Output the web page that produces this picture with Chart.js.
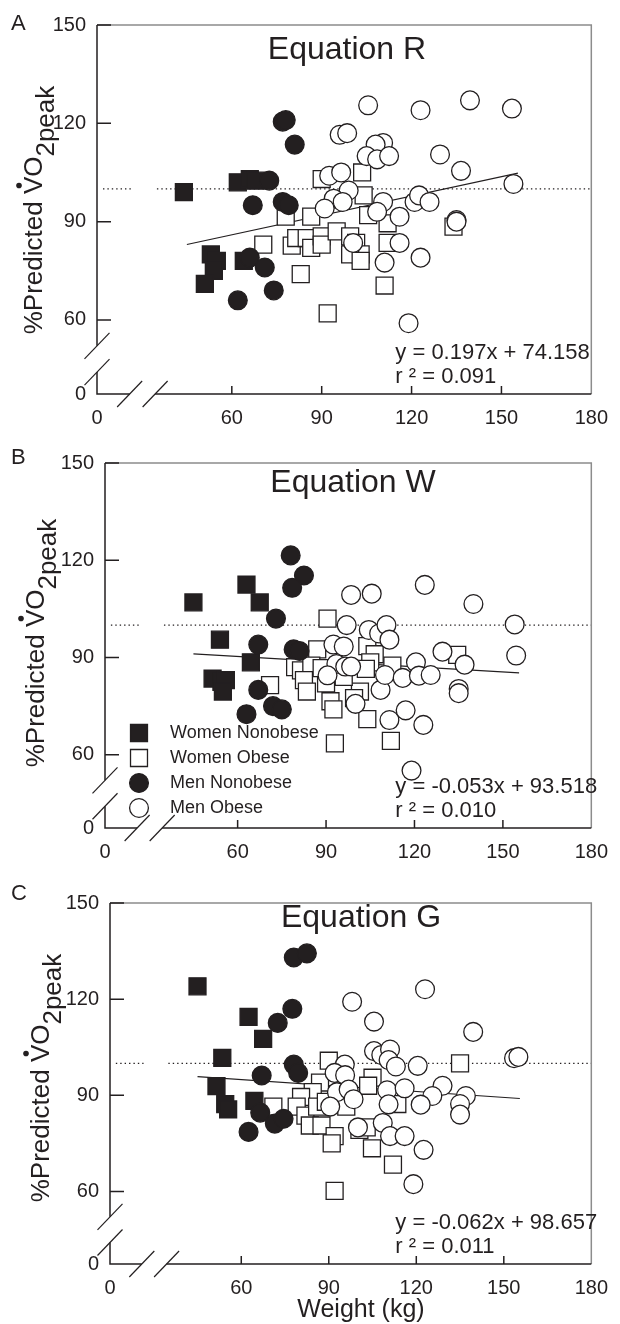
<!DOCTYPE html>
<html>
<head>
<meta charset="utf-8">
<script src="https://cdn.jsdelivr.net/npm/chart.js@4.4.0/dist/chart.umd.min.js"></script>
<style>
body { margin: 0; background: #fff; }
canvas { display: block; }
</style>
</head>
<body>
<canvas id="chartA" width="620" height="440"></canvas>
<canvas id="chartB" width="620" height="440"></canvas>
<canvas id="chartC" width="620" height="444"></canvas>
<script>
// groups, tick labels and fits
var groups = ['Women Nonobese', 'Women Obese', 'Men Nonobese', 'Men Obese'];
var xTicks = [0, 60, 90, 120, 150, 180];
var yTicks = [0, 60, 90, 120, 150];
var xStart = 15, yStart = 37.4;   // where the broken axes begin ("0")
var equations = ['Equation R', 'Equation W', 'Equation G'];
var slopes = [0.197, -0.053, -0.062];
var intercepts = [74.158, 93.518, 98.657];
var r2 = ['0.091', '0.010', '0.011'];
var fitRange = [45, 155.5];
var refLine = 100;

// weight (kg), % predicted VO2peak -- Equation R
var womenNonobeseR = [[44,99],[62,102],[66,103],[68,102.5],[53,80],[55,78],[54,75],[51,71],[64,78]];
var womenObeseR = [[90,103],[103.5,105],[104,98],[78,91.5],[86.5,91.5],[105.5,92],[70.5,83],[80,82.7],[81.5,85],[85,85],[86.5,82],[90,85.5],[90,83],[95,87],[99.5,85.5],[101.5,83.5],[103,80],[99.5,80],[103,78],[83,74],[92,62],[112,89.5],[112,83.5],[111,70.5],[134,88.5]];
var menNonobeseR = [[77,120.5],[78,121],[81,113.5],[72.5,102.5],[67,95],[77,96],[79,95],[66,79],[71,76],[74,69],[62,66]];
var menObeseR = [[105.5,125.5],[123,124],[139.5,127],[153.5,124.5],[96,116.5],[98.5,117],[110.5,114],[108,113.5],[105,110],[108.5,109],[112.5,110],[129.5,110.5],[136.5,105.5],[154,101.5],[92.5,104],[96.5,105],[99,99.5],[94,97],[97,96],[91,94],[110.5,96],[108.5,93],[116,91.5],[121,96],[122.5,98],[126,96],[135,90.5],[135,90],[100.5,83.5],[116,83.5],[111,77.5],[123,79],[119,59]];

// Equation W
var womenNonobeseW = [[45,107],[63,112.5],[67.5,107],[54,95.5],[64.5,88.5],[51.5,83.5],[54.5,82.5],[56,83],[55,79.5]];
var womenObeseW = [[90.5,102],[87,92.5],[79.5,87],[81.5,86],[85,87.5],[82.5,83],[83.5,79.5],[71,81.5],[91,84],[90,82],[91.5,76.5],[92.5,74],[93,63.5],[104,93.5],[106.5,91],[105,88.5],[112.5,87.5],[134.5,90.8],[101.5,79.5],[99.5,77.5],[104,71],[112,64.3],[103.5,86.5],[96,84],[88.5,86.7]];
var menNonobeseW = [[78,121.5],[82.5,115.3],[78.5,111.5],[73,102],[67,94],[79,92.5],[81,92],[67,80],[72,75],[75,74],[63,72.5]];
var menObeseW = [[98.5,109.3],[105.5,109.7],[123.5,112.4],[140,106.5],[97,100],[104.5,98.5],[108,97.4],[110.5,100],[111.5,95.5],[154,100.2],[154.5,90.6],[92.5,94],[96,93.4],[93.5,88],[96.5,87.2],[98.5,87.2],[90.5,84.5],[100,75.7],[108.5,80],[110,84.6],[116,83.7],[111.5,70.7],[117,73.7],[123,69.2],[119,55.1],[120.5,88.5],[121.5,84.4],[125.5,84.6],[129.5,91.8],[137,87.8],[135,80.3],[135,79]];

// Equation G
var womenNonobeseG = [[45,124],[62.5,114.5],[67.5,107.6],[53.5,101.7],[51.5,92.9],[54.5,87.3],[55.5,85.6],[64.5,88.3]];
var womenObeseG = [[90,100.8],[87,94],[84.5,91],[80.5,89.5],[79,86.5],[71,86.5],[82,83.7],[83.5,80.6],[87.5,80.6],[92,77.3],[91,75],[92,60.2],[104.8,73.5],[112,68.4],[105,95.5],[103.5,93],[113.5,87.3],[135,100],[96,86.5],[100.5,79.2],[103,80],[86,86.5],[89,88]];
var menNonobeseG = [[78,133],[82.5,134.3],[77.5,117],[72.5,112.6],[78,99.6],[79.5,97],[67,96.2],[66.5,84.6],[71.5,81.2],[74.5,82.7],[62.5,78.6]];
var menObeseG = [[98,119.2],[123,123.1],[105.5,113],[139.5,109.8],[105.5,103.8],[108,102.6],[111,104.3],[110.5,101],[113,99],[120.5,99.2],[153.5,101.6],[155,102],[95.5,99.6],[92,97],[95.6,96.3],[92.8,91],[96.8,91.8],[98.5,88.8],[90.5,86.5],[110,91.6],[110.5,87.2],[116,92.2],[129,93],[125.5,89.8],[121.5,87.1],[137,89.8],[135,87.3],[135,84],[108.5,81.4],[100,80],[111,77.3],[116,77.3],[122.5,73],[119,62.3]];

var panelData = [
  [womenNonobeseR, womenObeseR, menNonobeseR, menObeseR],
  [womenNonobeseW, womenObeseW, menNonobeseW, menObeseW],
  [womenNonobeseG, womenObeseG, menNonobeseG, menObeseG]
];

var ink = '#231f20';
var font = '"Liberation Sans", Arial, Helvetica, sans-serif';
var styles = [
  { pointStyle: 'rect', radius: 12, fill: ink },
  { pointStyle: 'rect', radius: 12, fill: '#fff' },
  { pointStyle: 'circle', radius: 9.4, fill: ink },
  { pointStyle: 'circle', radius: 9.4, fill: '#fff' }
];

// layout of each panel (canvas px)
var panels = [
  { id: 'chartA', letter: 'A', h: 440, left: 97, right: 595, top: 25, bottom: 394, titleX: 347, titleY: 50, letterY: 24, yTitleX: 42, yTitleY: 210, legend: false, xTitle: false },
  { id: 'chartB', letter: 'B', h: 440, left: 105, right: 602, top: 20, bottom: 388, titleX: 353, titleY: 43, letterY: 18, yTitleX: 44, yTitleY: 203, legend: true, xTitle: false },
  { id: 'chartC', letter: 'C', h: 444, left: 110, right: 609, top: 16, bottom: 384, titleX: 361, titleY: 38, letterY: 14, yTitleX: 49, yTitleY: 198, legend: false, xTitle: true }
];

function slash(ctx, cx, cy) {
  ctx.beginPath();
  ctx.moveTo(cx - 12.5, cy + 13);
  ctx.lineTo(cx + 12.5, cy - 13);
  ctx.stroke();
}

function marker(ctx, s, x, y) {
  ctx.beginPath();
  if (s.pointStyle === 'rect') {
    var h = s.radius * Math.SQRT1_2;
    ctx.rect(x - h, y - h, 2 * h, 2 * h);
  } else {
    ctx.arc(x, y, s.radius, 0, Math.PI * 2);
  }
  ctx.fillStyle = s.fill;
  ctx.fill();
  ctx.lineWidth = 1.3;
  ctx.strokeStyle = ink;
  ctx.stroke();
}

var decor = {
  id: 'decor',
  afterDraw: function(chart) {
    var p = chart.options.plugins.decor;
    var ctx = chart.ctx, a = chart.chartArea, xs = chart.scales.x, ys = chart.scales.y;
    ctx.save();

    // grey top and right frame
    ctx.strokeStyle = '#8c8c8c';
    ctx.lineWidth = 1.5;
    ctx.beginPath();
    ctx.moveTo(a.left, a.top); ctx.lineTo(a.right, a.top); ctx.lineTo(a.right, a.bottom);
    ctx.stroke();

    // broken axes
    var yb1 = ys.getPixelForValue(52.1), yb2 = ys.getPixelForValue(44.1);
    var xb1 = xs.getPixelForValue(25.9), xb2 = xs.getPixelForValue(34.4);
    ctx.strokeStyle = ink;
    ctx.lineWidth = 1.5;
    ctx.beginPath();
    ctx.moveTo(a.left, a.top); ctx.lineTo(a.left, yb1);
    ctx.moveTo(a.left, yb2); ctx.lineTo(a.left, a.bottom); ctx.lineTo(xb1, a.bottom);
    ctx.moveTo(xb2, a.bottom); ctx.lineTo(a.right, a.bottom);
    // inner ticks
    yTicks.slice(1).forEach(function(v) {
      var py = ys.getPixelForValue(v);
      ctx.moveTo(a.left, py); ctx.lineTo(a.left + 14, py);
    });
    xTicks.slice(1, -1).forEach(function(v) {
      var px = xs.getPixelForValue(v);
      ctx.moveTo(px, a.bottom); ctx.lineTo(px, a.bottom - 8);
    });
    ctx.stroke();
    ctx.lineWidth = 1.2;
    slash(ctx, a.left, yb1); slash(ctx, a.left, yb2);
    slash(ctx, xb1, a.bottom); slash(ctx, xb2, a.bottom);

    ctx.fillStyle = ink;
    // panel letter and title
    ctx.textBaseline = 'middle';
    ctx.textAlign = 'left';
    ctx.font = '22px ' + font;
    ctx.fillText(p.letter, 11, p.letterY);
    ctx.textAlign = 'center';
    ctx.font = '32px ' + font;
    ctx.fillText(p.title, p.titleX, p.titleY);

    // regression equation
    ctx.textAlign = 'left';
    ctx.font = '22px ' + font;
    var b = p.intercept, m = p.slope;
    var eq = 'y = ' + m.toFixed(3) + 'x + ' + b.toFixed(3);
    ctx.fillText(eq, a.right - 196, a.bottom - 41);
    ctx.fillText('r \u00b2 = ' + p.r2, a.right - 196, a.bottom - 17);

    // y-axis title with dot over V and subscript 2peak
    ctx.save();
    ctx.translate(p.yTitleX, p.yTitleY);
    ctx.rotate(-Math.PI / 2);
    ctx.font = '26px ' + font;
    ctx.textBaseline = 'alphabetic';
    ctx.textAlign = 'left';
    var t1 = '%Predicted V', t2 = 'O', t3 = '2peak';
    var w1 = ctx.measureText(t1).width, w2 = ctx.measureText(t2).width, w3 = ctx.measureText(t3).width;
    var wv = ctx.measureText('V').width;
    var x0 = -(w1 + w2 + w3) / 2;
    ctx.fillText(t1, x0, 0);
    ctx.fillText(t2, x0 + w1, 0);
    ctx.fillText(t3, x0 + w1 + w2, 12);
    ctx.beginPath();
    ctx.arc(x0 + w1 - wv / 2, -23, 2.8, 0, Math.PI * 2);
    ctx.fill();
    ctx.restore();

    // legend (panel B)
    if (p.legend) {
      ctx.font = '18px ' + font;
      ctx.textBaseline = 'middle';
      ctx.textAlign = 'left';
      groups.forEach(function(g, i) {
        var yy = 293 + i * 25;
        marker(ctx, styles[i], 139, yy);
        ctx.fillStyle = ink;
        ctx.fillText(g, 170, yy);
      });
    }

    // x-axis title (panel C)
    if (p.xTitle) {
      ctx.font = '25px ' + font;
      ctx.textAlign = 'center';
      ctx.textBaseline = 'middle';
      ctx.fillText('Weight (kg)', 361, 430);
    }
    ctx.restore();
  }
};

function makeChart(k) {
  var p = panels[k];
  var sets = panelData[k].map(function(arr, i) {
    var s = styles[i];
    return {
      label: groups[i],
      data: arr.map(function(d) { return { x: d[0], y: d[1] }; }),
      pointStyle: s.pointStyle,
      pointRadius: s.radius,
      pointBackgroundColor: s.fill,
      pointBorderColor: ink,
      pointBorderWidth: 1.3,
      order: 3 - i
    };
  });
  // regression line from the printed equation
  sets.push({
    label: 'fit',
    data: fitRange.map(function(x) { return { x: x, y: slopes[k] * x + intercepts[k] }; }),
    showLine: true, pointRadius: 0, borderColor: ink, borderWidth: 1.2, order: 10
  });
  // dotted 100 % line, interrupted at the axis break
  sets.push({
    label: 'ref',
    data: [{ x: 17, y: refLine }, { x: 26.5, y: refLine }, { x: 30, y: null }, { x: 35, y: refLine }, { x: 180, y: refLine }],
    showLine: true, spanGaps: false, pointRadius: 0, borderColor: ink, borderWidth: 1.3,
    borderDash: [1.4, 3], order: 11
  });

  new Chart(document.getElementById(p.id).getContext('2d'), {
    type: 'scatter',
    data: { datasets: sets },
    options: {
      responsive: false,
      animation: false,
      events: [],
      layout: { autoPadding: false, padding: { left: 0, top: p.top, right: 620 - p.right, bottom: 0 } },
      plugins: {
        legend: { display: false },
        tooltip: { enabled: false },
        decor: {
          letter: p.letter, title: equations[k], titleX: p.titleX, titleY: p.titleY, letterY: p.letterY,
          slope: slopes[k], intercept: intercepts[k], r2: r2[k],
          yTitleX: p.yTitleX, yTitleY: p.yTitleY, legend: p.legend, xTitle: p.xTitle
        }
      },
      scales: {
        x: {
          type: 'linear', min: xStart, max: 180,
          grid: { display: false, drawTicks: false },
          border: { display: false },
          afterFit: function(s) { s.height = p.h - p.bottom; },
          afterBuildTicks: function(s) {
            s.ticks = xTicks.map(function(v) { return { value: v === 0 ? xStart : v }; });
          },
          ticks: {
            autoSkip: false, maxRotation: 0, padding: 12, color: ink,
            font: { size: 20, family: font },
            callback: function(v) { return v === xStart ? '0' : v; }
          }
        },
        y: {
          type: 'linear', min: yStart, max: 150,
          grid: { display: false, drawTicks: false },
          border: { display: false },
          afterFit: function(s) { s.width = p.left; },
          afterBuildTicks: function(s) {
            s.ticks = yTicks.map(function(v) { return { value: v === 0 ? yStart : v }; });
          },
          ticks: {
            autoSkip: false, padding: 11, color: ink,
            font: { size: 20, family: font },
            callback: function(v) { return v === yStart ? '0' : v; }
          }
        }
      }
    },
    plugins: [decor]
  });
}

makeChart(0);
makeChart(1);
makeChart(2);
</script>
</body>
</html>
